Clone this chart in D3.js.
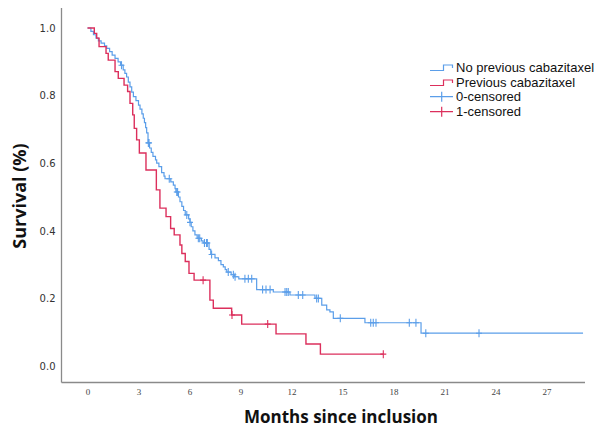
<!DOCTYPE html>
<html>
<head>
<meta charset="utf-8">
<script src="https://cdn.jsdelivr.net/npm/d3@7"></script>
<style>
  body { margin: 0; background: #ffffff; }
  svg { display: block; }
</style>
</head>
<body>
<svg id="chart" width="595" height="428"></svg>
<script>
// Kaplan–Meier estimates: event months and survival after each step
const blueEventMonths = [
  0, 0.2, 0.35, 0.5, 0.64, 0.8, 1.0, 1.13, 1.3, 1.45,
  1.62, 1.8, 1.95, 2.1, 2.2, 2.3, 2.4, 2.5, 2.6, 2.7,
  2.85, 3.0, 3.09, 3.2, 3.28, 3.35, 3.42, 3.48, 3.56, 3.65,
  3.75, 3.85, 4.0, 4.07, 4.2, 4.36, 4.5, 4.56, 4.9, 5.05,
  5.15, 5.2, 5.35, 5.44, 5.55, 5.65, 5.75, 5.95, 6.03, 6.1,
  6.2, 6.32, 6.45, 6.7, 6.8, 7.15, 7.25, 7.5, 7.7, 7.85,
  7.99, 8.1, 8.19, 8.45, 8.65, 8.9, 9.95, 10.93, 11.91, 13.38,
  13.78, 14.07, 14.26, 14.46, 16.32, 19.62
];
const blueSurvival = [
  1.0, 0.99, 0.98, 0.97, 0.962, 0.955, 0.947, 0.94, 0.93, 0.92,
  0.91, 0.9, 0.89, 0.876, 0.866, 0.855, 0.84, 0.826, 0.81, 0.797,
  0.785, 0.772, 0.76, 0.746, 0.733, 0.72, 0.705, 0.69, 0.66, 0.645,
  0.632, 0.62, 0.61, 0.6, 0.59, 0.572, 0.562, 0.554, 0.545, 0.535,
  0.525, 0.515, 0.5, 0.486, 0.472, 0.46, 0.447, 0.435, 0.425, 0.412,
  0.4, 0.388, 0.378, 0.37, 0.364, 0.345, 0.33, 0.32, 0.312, 0.3,
  0.293, 0.285, 0.278, 0.27, 0.264, 0.258, 0.226, 0.219, 0.21, 0.2,
  0.18, 0.166, 0.16, 0.141, 0.128, 0.097
];
const blueCensorMonths = [
  2.0, 3.58, 3.62, 4.81, 5.25, 5.3, 5.84, 6.03, 6.52, 6.6,
  6.88, 7.0, 7.05, 7.3, 8.28, 8.58, 8.68, 9.26, 9.46, 9.66,
  10.3, 10.5, 10.74, 11.62, 11.72, 11.81, 12.4, 12.66, 13.48, 13.58,
  14.87, 16.66, 16.81, 16.97, 18.93, 19.32, 19.9, 23.03
];
const blueLastMonth = 29.15;

const redEventMonths = [
  0, 0.4, 0.54, 0.68, 1.09, 1.22, 1.62, 1.81, 2.15, 2.36,
  2.5, 2.66, 2.75, 2.89, 3.05, 3.44, 4.05, 4.26, 4.62, 4.89,
  5.1, 5.44, 5.55, 5.75, 5.97, 6.27, 7.2, 7.4, 8.48, 9.07,
  11.09, 12.85, 13.7
];
const redSurvival = [
  1.0, 0.984, 0.97, 0.945, 0.925, 0.905, 0.871, 0.851, 0.831, 0.812,
  0.777, 0.743, 0.703, 0.669, 0.63, 0.58, 0.521, 0.467, 0.442, 0.407,
  0.388, 0.358, 0.333, 0.309, 0.274, 0.254, 0.195, 0.171, 0.151, 0.124,
  0.095, 0.065, 0.035
];
const redCensorMonths = [6.8, 8.5, 10.6, 17.4];
const redLastMonth = 17.4;

const xTicks = [0, 3, 6, 9, 12, 15, 18, 21, 24, 27];
const yTicks = [0, 0.2, 0.4, 0.6, 0.8, 1.0];
const legendLabels = ["No previous cabazitaxel", "Previous cabazitaxel", "0-censored", "1-censored"];

const blueColor = "#5b9ee9";
const redColor = "#dc2f5c";

const svg = d3.select("#chart");

// plot frame
const frame = { left: 61.5, right: 585, top: 8, bottom: 382.5 };

const x = d3.scaleLinear().domain([0, 27]).range([87.5, 546.5]);
const y = d3.scaleLinear().domain([0, 1]).range([366, 28]);

// axis lines
svg.append("line")
  .attr("x1", frame.left).attr("x2", frame.left)
  .attr("y1", frame.top).attr("y2", frame.bottom)
  .attr("stroke", "#8a8a8a").attr("stroke-width", 1.3);
svg.append("line")
  .attr("x1", frame.left).attr("x2", frame.right)
  .attr("y1", frame.bottom).attr("y2", frame.bottom)
  .attr("stroke", "#8a8a8a").attr("stroke-width", 1.3);

// y tick labels
const yAxis = svg.append("g")
  .attr("transform", `translate(${frame.left},0)`)
  .call(d3.axisLeft(y).tickValues(yTicks).tickFormat(d3.format(".1f")).tickSize(0).tickPadding(6));
yAxis.select(".domain").remove();
yAxis.selectAll("text")
  .attr("font-family", "'DejaVu Sans', sans-serif")
  .attr("font-size", 10)
  .attr("fill", "#333");

// x tick labels
const xAxis = svg.append("g")
  .attr("transform", `translate(0,${frame.bottom})`)
  .call(d3.axisBottom(x).tickValues(xTicks).tickFormat(d3.format("d")).tickSize(0).tickPadding(6));
xAxis.select(".domain").remove();
xAxis.selectAll("text")
  .attr("font-family", "'Liberation Serif', 'DejaVu Serif', serif")
  .attr("font-size", 9)
  .attr("fill", "#444");

// axis titles
svg.append("text")
  .attr("transform", "translate(26,196) rotate(-90)")
  .attr("text-anchor", "middle")
  .attr("font-family", "'Open Sans', sans-serif")
  .attr("font-weight", "bold")
  .attr("font-size", 18)
  .attr("fill", "#111")
  .text("Survival (%)");

svg.append("text")
  .attr("x", 341).attr("y", 423)
  .attr("text-anchor", "middle")
  .attr("font-family", "'Open Sans', sans-serif")
  .attr("font-weight", "bold")
  .attr("font-size", 17)
  .attr("fill", "#111")
  .text("Months since inclusion");

// survival curves
function stepPoints(times, surv, lastMonth) {
  const pts = times.map((t, i) => [t, surv[i]]);
  pts.push([lastMonth, surv[surv.length - 1]]);
  return pts;
}
function survivalAt(times, surv, t) {
  const i = d3.bisectRight(times, t) - 1;
  return surv[Math.max(0, i)];
}

const line = d3.line()
  .x(d => x(d[0]))
  .y(d => y(d[1]))
  .curve(d3.curveStepAfter);

const groups = [
  { times: blueEventMonths, surv: blueSurvival, censor: blueCensorMonths, last: blueLastMonth, color: blueColor, width: 1.2 },
  { times: redEventMonths, surv: redSurvival, censor: redCensorMonths, last: redLastMonth, color: redColor, width: 1.4 }
];

groups.forEach(g => {
  svg.append("path")
    .datum(stepPoints(g.times, g.surv, g.last))
    .attr("d", line)
    .attr("fill", "none")
    .attr("stroke", g.color)
    .attr("stroke-width", g.width);

  svg.append("g")
    .selectAll("path")
    .data(g.censor)
    .join("path")
    .attr("d", t => {
      const cx = x(t), cy = y(survivalAt(g.times, g.surv, t));
      return `M${cx - 3},${cy}H${cx + 3}M${cx},${cy - 4}V${cy + 4}`;
    })
    .attr("fill", "none")
    .attr("stroke", g.color)
    .attr("stroke-width", 1.1);
});

// legend
const legend = svg.append("g").attr("transform", "translate(430,0)");
const legendRows = [
  { label: legendLabels[0], color: blueColor, kind: "step", yc: 67 },
  { label: legendLabels[1], color: redColor, kind: "step", yc: 82 },
  { label: legendLabels[2], color: blueColor, kind: "cross", yc: 96.7 },
  { label: legendLabels[3], color: redColor, kind: "cross", yc: 111.7 }
];
legendRows.forEach(r => {
  const d = r.kind === "step"
    ? `M0,${r.yc + 3.5}H13.5V${r.yc - 2}H22.5V${r.yc + 1}`
    : `M0,${r.yc}H23M11.7,${r.yc - 5}V${r.yc + 5}`;
  legend.append("path")
    .attr("d", d)
    .attr("fill", "none")
    .attr("stroke", r.color)
    .attr("stroke-width", 1.2);
  legend.append("text")
    .attr("x", 26)
    .attr("y", r.yc + 4.5)
    .attr("font-family", "'Liberation Sans', Arial, sans-serif")
    .attr("font-size", 13)
    .attr("fill", "#111")
    .text(r.label);
});
</script>
</body>
</html>
